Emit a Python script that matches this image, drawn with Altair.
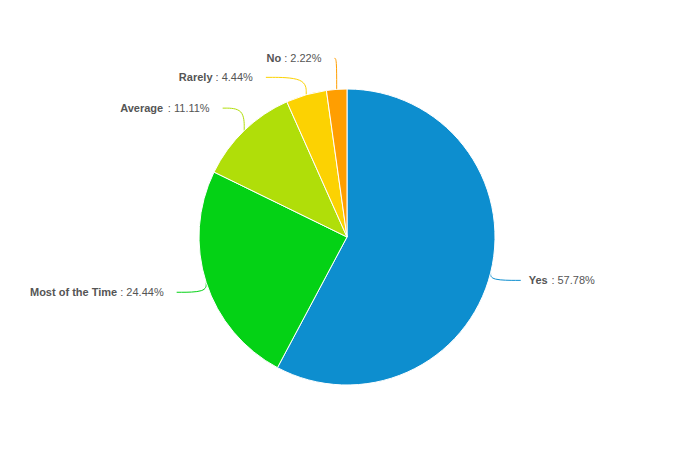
import altair as alt
import numpy as np
import pandas as pd

categories = ["Yes", "Most of the Time", "Average", "Rarely", "No"]
values = [57.78, 24.44, 11.11, 4.44, 2.22]
colors = ["#0d8ecf", "#04d215", "#b0de09", "#fcd202", "#ff9e01"]

# layout (pixels)
W, H, R = 638, 410, 148
FS = 11
LABEL_R = 1.21
GAP_R = 8
GAP_L = 13
SPACING = 19

# Arial / Liberation Sans advance widths (em)
REG = {" ": .278, ":": .278, ".": .278, "%": .889}
for d in "0123456789":
    REG[d] = .556
BOLD = {"Y": .667, "e": .556, "s": .556, "M": .833, "o": .611, "t": .333, " ": .278,
        "f": .333, "h": .611, "T": .611, "i": .278, "m": .889, "A": .722, "v": .556,
        "r": .389, "a": .556, "g": .611, "R": .722, "l": .278, "y": .556, "N": .722}


def tw(s, table):
    return sum(table.get(c, .556) for c in s) * FS / R  # in radius units


n = len(categories)
total = sum(values)
cum = np.cumsum([0] + values)
mid = (cum[:-1] + cum[1:]) / 2 / total * 2 * np.pi
ex = np.sin(mid)
ey = np.cos(mid)
ly = LABEL_R * ey
side = np.where(ex >= 0, 1, -1)
for s in (1, -1):
    idx = sorted([i for i in range(n) if side[i] == s], key=lambda i: -ly[i])
    for a, b in zip(idx, idx[1:]):
        if ly[b] > ly[a] - SPACING / R:
            ly[b] = ly[a] - SPACING / R
lx = side * np.sqrt(np.clip(LABEL_R ** 2 - ly ** 2, 0, None))

val_txt = [f": {v:.2f}%" for v in values]
name_x, val_x, align = [], [], []
for i in range(n):
    sp = tw(" ", REG)
    if side[i] > 0:
        nx = lx[i] + GAP_R / R
        vx = nx + tw(categories[i], BOLD) + sp
        al = "left"
    else:
        vx = lx[i] - GAP_L / R
        nx = vx - tw(val_txt[i], REG) - sp
        al = "right"
    name_x.append(nx)
    val_x.append(vx)
    align.append(al)

df = pd.DataFrame({"category": categories, "value": values, "idx": range(n),
                   "ly": ly, "name_x": name_x, "val_x": val_x, "val_txt": val_txt,
                   "align": align})

rows = []
for i in range(n):
    pts = [(ex[i], ey[i]), (ex[i], ly[i]), (lx[i], ly[i])]
    for k, (x, y) in enumerate(pts):
        rows.append({"category": categories[i], "k": k, "x": x, "y": y})
lines = pd.DataFrame(rows)

xd = W / 2 / R
yd = H / 2 / R
xs = alt.Scale(domain=[-xd, xd], nice=False, zero=False)
ys = alt.Scale(domain=[-yd, yd], nice=False, zero=False)
cs = alt.Scale(domain=categories, range=colors)

pie = alt.Chart(df).mark_arc(outerRadius=R, stroke="white", strokeWidth=1).encode(
    theta=alt.Theta("value:Q", stack=True),
    color=alt.Color("category:N", scale=cs, legend=None),
    order=alt.Order("idx:Q"),
)

conn = alt.Chart(lines).mark_line(interpolate="basis", strokeWidth=1).encode(
    x=alt.X("x:Q", scale=xs, axis=None),
    y=alt.Y("y:Q", scale=ys, axis=None),
    detail="category:N",
    order="k:Q",
    color=alt.Color("category:N", scale=cs, legend=None),
)

txt_common = dict(fontSize=FS, font="Liberation Sans", color="#555555",
                  baseline="middle", dy=1)
names_r = alt.Chart(df).transform_filter("datum.align == 'left'").mark_text(
    align="left", fontWeight="bold", **txt_common).encode(
    x=alt.X("name_x:Q", scale=xs, axis=None), y=alt.Y("ly:Q", scale=ys, axis=None),
    text="category:N")
vals_r = alt.Chart(df).transform_filter("datum.align == 'left'").mark_text(
    align="left", **txt_common).encode(
    x=alt.X("val_x:Q", scale=xs, axis=None), y=alt.Y("ly:Q", scale=ys, axis=None),
    text="val_txt:N")
names_l = alt.Chart(df).transform_filter("datum.align == 'right'").mark_text(
    align="right", fontWeight="bold", **txt_common).encode(
    x=alt.X("name_x:Q", scale=xs, axis=None), y=alt.Y("ly:Q", scale=ys, axis=None),
    text="category:N")
vals_l = alt.Chart(df).transform_filter("datum.align == 'right'").mark_text(
    align="right", **txt_common).encode(
    x=alt.X("val_x:Q", scale=xs, axis=None), y=alt.Y("ly:Q", scale=ys, axis=None),
    text="val_txt:N")

chart = alt.layer(conn, pie, names_r, vals_r, names_l, vals_l).properties(
    width=W, height=H,
    autosize=alt.AutoSizeParams(type="none"),
    padding={"left": 20, "top": 24, "right": 0, "bottom": 0},
).configure_view(stroke=None)

chart.save("out.html", embed_options={"renderer": "svg", "actions": False})
